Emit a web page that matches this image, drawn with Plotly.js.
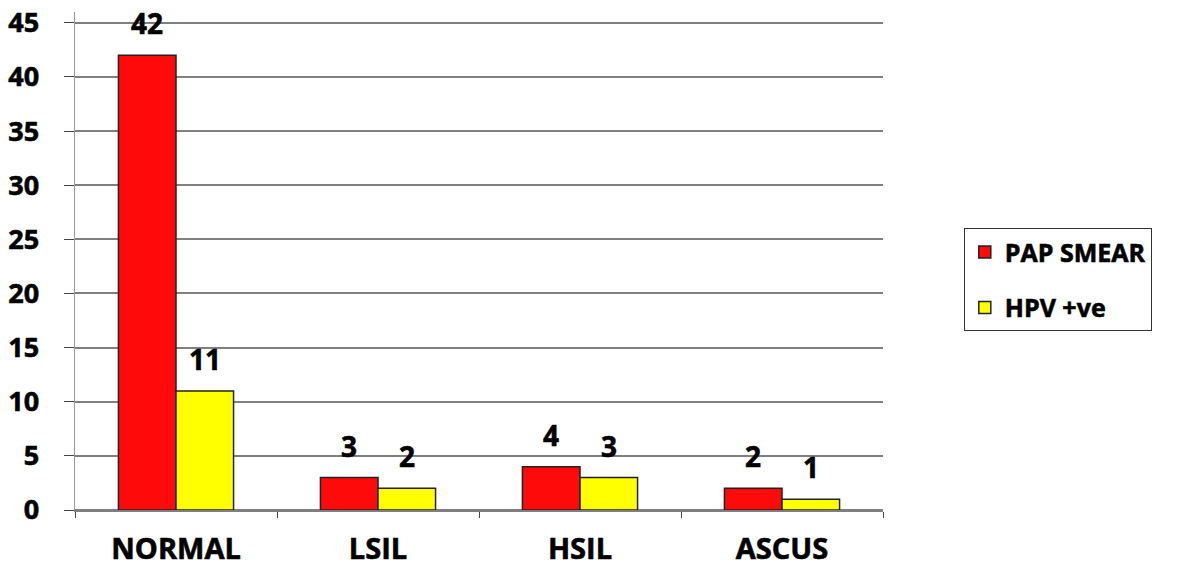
<!DOCTYPE html>
<html>
<head>
<meta charset="utf-8">
<script src="https://cdn.plot.ly/plotly-3.0.1.min.js"></script>
<style>
html,body{margin:0;padding:0;background:#fff;}
#chart{width:1183px;height:568px;}
#chart .xtick text, #chart .ytick text, #chart .annotation-text, #chart .legendtext {stroke:#000; stroke-width:0.6px;}
</style>
</head>
<body>
<div id="chart"></div>
<script>
const categories = ["NORMAL", "LSIL", "HSIL", "ASCUS"];
const papSmear = [42, 3, 4, 2];
const hpvPositive = [11, 2, 3, 1];
const seriesNames = ["PAP SMEAR", "HPV +ve"];
const yTicks = [0, 5, 10, 15, 20, 25, 30, 35, 40, 45];

const FONT = "'Open Sans', Lato, sans-serif";

const traces = [
  {type: "bar", name: seriesNames[0], x: categories, y: papSmear, legendgroup: "a",
   marker: {color: "#ff0a0a", line: {color: "#222", width: 1.5}}, hoverinfo: "none"},
  {type: "bar", name: seriesNames[1], x: categories, y: hpvPositive, legendgroup: "b",
   marker: {color: "#ffff00", line: {color: "#222", width: 1.5}}, hoverinfo: "none"}
];

const annotations = [];
const barShift = 29;
[papSmear, hpvPositive].forEach((vals, si) => {
  vals.forEach((v, i) => {
    annotations.push({
      x: categories[i], y: v, xref: "x", yref: "y",
      text: String(v), showarrow: false,
      xshift: si === 0 ? -barShift : barShift, yshift: 32,
      font: {family: FONT, size: 28, color: "#000", weight: 700}
    });
  });
});

const layout = {
  width: 1183, height: 568,
  margin: {l: 75, r: 300, t: 12, b: 58},
  paper_bgcolor: "#fff", plot_bgcolor: "#fff",
  barmode: "group", bargap: 0.43, bargroupgap: 0,
  font: {family: FONT, color: "#000"},
  xaxis: {
    type: "category", showgrid: false, showline: true, linecolor: "#7f7f7f", linewidth: 2,
    ticks: "outside", ticklen: 6, tickcolor: "#444", tickson: "boundaries",
    tickfont: {family: FONT, size: 29, weight: 700}, ticklabelstandoff: 12,
    zeroline: false, fixedrange: true
  },
  yaxis: {
    range: [0, 46], tickvals: yTicks, showgrid: true, gridcolor: "#7f7f7f", gridwidth: 2,
    showline: true, linecolor: "#9a9a9a", linewidth: 1.5,
    ticks: "outside", ticklen: 10, tickcolor: "#444",
    tickfont: {family: FONT, size: 27, weight: 700}, ticklabelstandoff: 19,
    zeroline: true, zerolinecolor: "#7f7f7f", zerolinewidth: 2, fixedrange: true
  },
  showlegend: true,
  legend: {
    x: 1.1, xanchor: "left", y: 0.566, yanchor: "top",
    bordercolor: "#333", borderwidth: 1, bgcolor: "#fff",
    font: {family: FONT, size: 25, weight: 700, color: "#000"},
    tracegroupgap: 20, traceorder: "grouped", itemwidth: 30
  },
  annotations: annotations
};

Plotly.newPlot("chart", traces, layout, {displayModeBar: false, staticPlot: true});
</script>
</body>
</html>
